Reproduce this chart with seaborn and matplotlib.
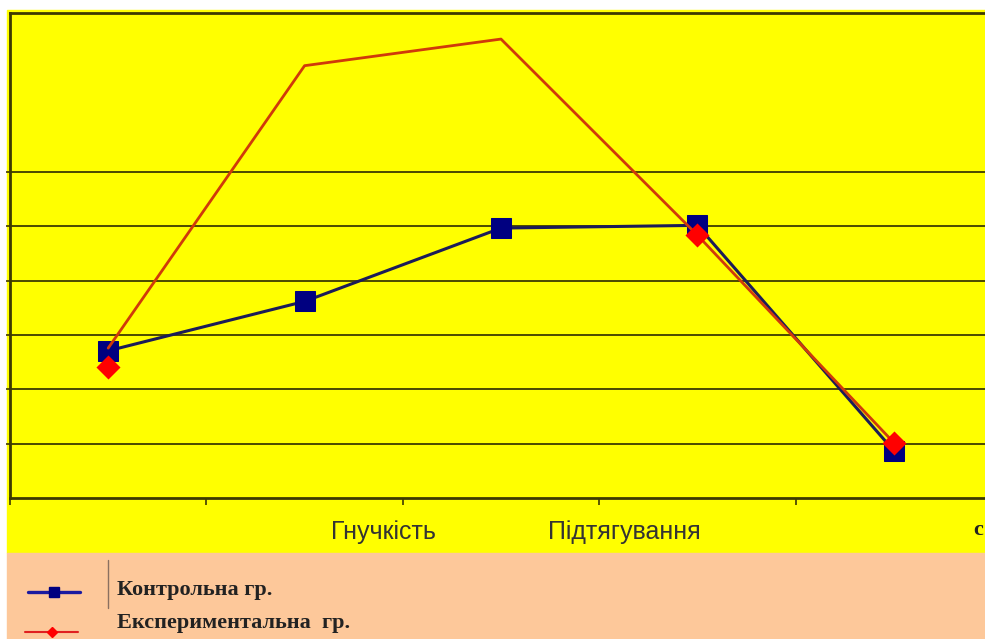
import matplotlib
matplotlib.use("Agg")
import matplotlib.pyplot as plt
from matplotlib.lines import Line2D
from matplotlib.patches import Rectangle
import pandas as pd
import seaborn as sns

# Test positions along the x axis and mean scores per group
tests = [0, 1, 2, 3, 4]
control = [2.71, 3.62, 4.97, 5.02, 0.87]
experimental = [2.42, 7.96, 8.45, 4.84, 1.02]
# experimental trend line (starts from the shared baseline of the control group)
experimental_trend = [2.76, 7.96, 8.45, 4.84, 1.02]
experimental_marked = [0, 3, 4]
series_names = ["Контрольна гр.", "Експериментальна  гр."]
axis_labels = ["Гнучкість", "Підтягування", "с"]

W, H = 985, 639
DPI = 100
sns.set_theme(style="white")
plt.rcParams["font.family"] = ["Liberation Sans", "DejaVu Sans"]
SERIF = ["Liberation Serif", "DejaVu Serif"]

fig = plt.figure(figsize=(W / DPI, H / DPI), dpi=DPI, facecolor="white")

def fx(px):
    return px / W

def fy(py):
    return 1 - py / H

# yellow chart area and peach legend band
fig.add_artist(Rectangle((fx(7), fy(553)), fx(985 - 7), (553 - 10) / H,
                         transform=fig.transFigure, color="#ffff00", zorder=0))
fig.add_artist(Rectangle((fx(7), 0), fx(985 - 7), (639 - 553) / H,
                         transform=fig.transFigure, color="#fdc89a", zorder=0))

ax = fig.add_axes([fx(10), fy(498), fx(992 - 10), (498 - 13) / H])
ax.set_facecolor("#ffff00")

ctrl_df = pd.DataFrame({"test": tests, "value": control})
exp_df = pd.DataFrame({"test": tests, "value": experimental})
trend_df = pd.DataFrame({"test": tests, "value": experimental_trend})

BLUE_LINE = "#1c1c58"
BLUE_MARK = "#000080"
RED_LINE = "#d03a0a"
RED_MARK = "#ff0000"

sns.lineplot(data=ctrl_df, x="test", y="value", ax=ax,
             color=BLUE_LINE, lw=2.2, marker="s", markersize=14,
             markerfacecolor=BLUE_MARK, markeredgecolor=BLUE_MARK, zorder=3,
             legend=False)
sns.lineplot(data=trend_df, x="test", y="value", ax=ax,
             color=RED_LINE, lw=2.0, zorder=4, legend=False)
sns.scatterplot(data=exp_df.iloc[experimental_marked], x="test", y="value", ax=ax,
                color=RED_MARK, marker="D", s=150, linewidth=0, zorder=5,
                legend=False)

ax.set_xlim(-0.5, 4.5)
ax.set_ylim(0, 8.93)
ax.set_xlabel("")
ax.set_ylabel("")

grid_c = "#3d3a00"
ax.set_yticks([1, 2, 3, 4, 5, 6])
ax.set_yticklabels([])
ax.yaxis.grid(True, color=grid_c, lw=1.3)
ax.set_xticks([-0.5, 0.5, 1.5, 2.5, 3.5])
ax.set_xticklabels([])
ax.tick_params(axis="x", direction="out", length=5, width=1.2, color=grid_c, bottom=True)
ax.tick_params(axis="y", direction="out", length=3, width=1.2, color=grid_c, left=True)

for side in ["left", "top", "bottom"]:
    ax.spines[side].set_color(grid_c)
    ax.spines[side].set_linewidth(2.0)
ax.spines["right"].set_visible(False)

# category captions below the axis
ax.text(1.40, -0.62, axis_labels[0], ha="center", va="center",
        fontsize=18, color="#333333", transform=ax.transData, clip_on=False)
ax.text(2.63, -0.62, axis_labels[1], ha="center", va="center",
        fontsize=18, color="#333333", transform=ax.transData, clip_on=False)
fig.text(fx(973), fy(530), axis_labels[2], ha="left", va="center",
         fontsize=16, fontweight="bold", family=SERIF, color="#222222")

# legend keys
fig.add_artist(Line2D([fx(28), fx(54), fx(80)], [fy(592), fy(592), fy(592)],
                      transform=fig.transFigure, color="#1a1aa0", lw=2.4,
                      marker="s", markersize=7, markevery=[1],
                      markerfacecolor=BLUE_MARK, markeredgecolor=BLUE_MARK))
fig.add_artist(Line2D([fx(25), fx(52), fx(78)], [fy(632), fy(632), fy(632)],
                      transform=fig.transFigure, color="#e02020", lw=1.5,
                      marker="D", markersize=5.5, markevery=[1],
                      markerfacecolor=RED_MARK, markeredgecolor=RED_MARK))
fig.add_artist(Line2D([fx(108), fx(108)], [fy(560), fy(608)],
                      transform=fig.transFigure, color="#8a7060", lw=1.0))
fig.text(fx(117), fy(590), series_names[0], ha="left", va="center",
         fontsize=16, fontweight="bold", family=SERIF, color="#222222")
fig.text(fx(117), fy(623), series_names[1], ha="left", va="center",
         fontsize=16, fontweight="bold", family=SERIF, color="#222222")

fig.savefig("out.png", dpi=DPI, facecolor="white")
